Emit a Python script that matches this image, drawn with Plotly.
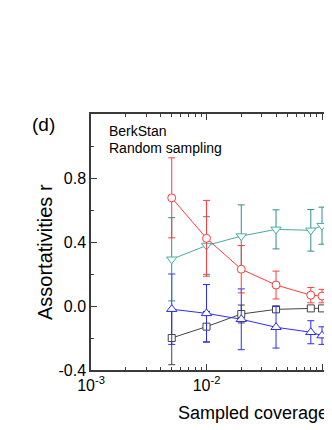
import plotly.graph_objects as go

# ---- data ----
coverage = [0.005, 0.01, 0.02, 0.04, 0.08, 0.1, 0.2]

r_circle = [0.676, 0.423, 0.23, 0.131, 0.068, 0.062, 0.068]
e_circle = [0.25, 0.237, 0.148, 0.087, 0.048, 0.042, 0.03]

r_down = [0.292, 0.378, 0.437, 0.479, 0.473, 0.502, 0.51]
e_down = [0.26, 0.18, 0.195, 0.122, 0.13, 0.116, 0.1]

r_up = [-0.02, -0.046, -0.083, -0.133, -0.164, -0.185, -0.16]
e_up = [0.22, 0.18, 0.19, 0.13, 0.072, 0.055, 0.04]

r_square = [-0.2, -0.129, -0.05, -0.021, -0.015, -0.015, -0.012]
e_square = [0.167, 0.095, 0.056, 0.019, 0.008, 0.008, 0.005]

x_tickvals = [0.001, 0.01, 0.1]
x_ticktext = ["10<sup>-3</sup>", "10<sup>-2</sup>", "10<sup>-1</sup>"]
x_minorvals = [m * d for d in (0.001, 0.01, 0.1) for m in range(2, 10)]
y_tickvals = [-0.4, 0.0, 0.4, 0.8]
y_ticktext = ["-0.4", "0.0", "0.4", "0.8"]
y_minorvals = [-0.2, 0.2, 0.6, 1.0]

FONT = "Arial, Liberation Sans, sans-serif"
AXC = "#3a3a3a"

series = [
    (r_square, e_square, "square", "#444444", "#444444", 7),
    (r_up, e_up, "triangle-up", "#2b2bff", "#2b2bff", 9),
    (r_down, e_down, "triangle-down", "#45aca7", "#2f8f8a", 9),
    (r_circle, e_circle, "circle", "#ff3c3c", "#ff3c3c", 8),
]

fig = go.Figure()
for ys, es, sym, col, ecol, sz in series:
    fig.add_trace(go.Scatter(
        x=coverage, y=ys, mode="lines+markers",
        line=dict(color=col, width=1),
        marker=dict(symbol=sym, size=sz, color="white",
                    line=dict(color=col, width=1)),
        error_y=dict(type="data", array=es, visible=True,
                     color=ecol, thickness=1, width=3.5),
        showlegend=False, hoverinfo="skip",
    ))

# invisible trace to carry the mirrored top axis
fig.add_trace(go.Scatter(x=[coverage[0]], y=[None], xaxis="x2", yaxis="y",
                         mode="markers", marker=dict(opacity=0),
                         showlegend=False, hoverinfo="skip"))

# page body adds an 8px offset; plot area spans 241 x 256 px
L, T, PW, PH = 83, 106, 241, 256
xr = [-3, -3 + PW / 115.5]
common_x = dict(
    type="log", range=xr, tickmode="array", tickvals=x_tickvals,
    ticks="inside", ticklen=6, tickwidth=1, tickcolor=AXC,
    showline=True, linecolor=AXC, linewidth=1.5,
    showgrid=False, zeroline=False,
    minor=dict(tickmode="array", tickvals=x_minorvals, ticks="inside",
               ticklen=3.5, tickwidth=1, tickcolor=AXC, showgrid=False),
)


def px(x):  # reference page x -> paper x
    return (x - 8 - L) / PW


def py(y):  # reference page y -> paper y
    return (T + PH - (y - 8)) / PH


fig.update_layout(
    width=L + PW, height=T + PH + 60,
    margin=dict(l=L, r=0, t=T, b=60),
    paper_bgcolor="white", plot_bgcolor="white",
    font=dict(family=FONT, color="black", size=16),
    xaxis=dict(**common_x, ticktext=x_ticktext,
               tickfont=dict(size=16, family=FONT, color="black")),
    xaxis2=dict(**common_x, overlaying="x", side="top", matches="x",
                showticklabels=False),
    yaxis=dict(
        range=[-0.4, 1.2], tickmode="array", tickvals=y_tickvals,
        ticktext=y_ticktext, ticks="inside", ticklen=6, tickwidth=1,
        tickcolor=AXC, showline=True, linecolor=AXC, linewidth=1.5,
        showgrid=False, zeroline=False,
        tickfont=dict(size=16, family=FONT, color="black"),
        minor=dict(tickmode="array", tickvals=y_minorvals, ticks="inside",
                   ticklen=3.5, tickwidth=1, tickcolor=AXC, showgrid=False),
    ),
    annotations=[
        dict(text="(d)", xref="paper", yref="paper", x=px(30),
             y=py(124), xanchor="left", yanchor="middle",
             showarrow=False, font=dict(size=19, family=FONT)),
        dict(text="BerkStan", xref="paper", yref="paper", x=px(107),
             y=py(130.5), xanchor="left", yanchor="middle",
             showarrow=False, font=dict(size=14, family=FONT)),
        dict(text="Random sampling", xref="paper", yref="paper",
             x=px(107), y=py(148), xanchor="left",
             yanchor="middle", showarrow=False, font=dict(size=14, family=FONT)),
        dict(text="Assortativities r", xref="paper", yref="paper",
             x=px(45), y=py(252), xanchor="center",
             yanchor="middle", textangle=-90, showarrow=False,
             font=dict(size=20, family=FONT)),
        dict(text="Sampled coverage", xref="paper", yref="paper",
             x=px(176), y=py(413), xanchor="left",
             yanchor="middle", showarrow=False, font=dict(size=18, family=FONT)),
    ],
)

fig.write_html("out.html")
